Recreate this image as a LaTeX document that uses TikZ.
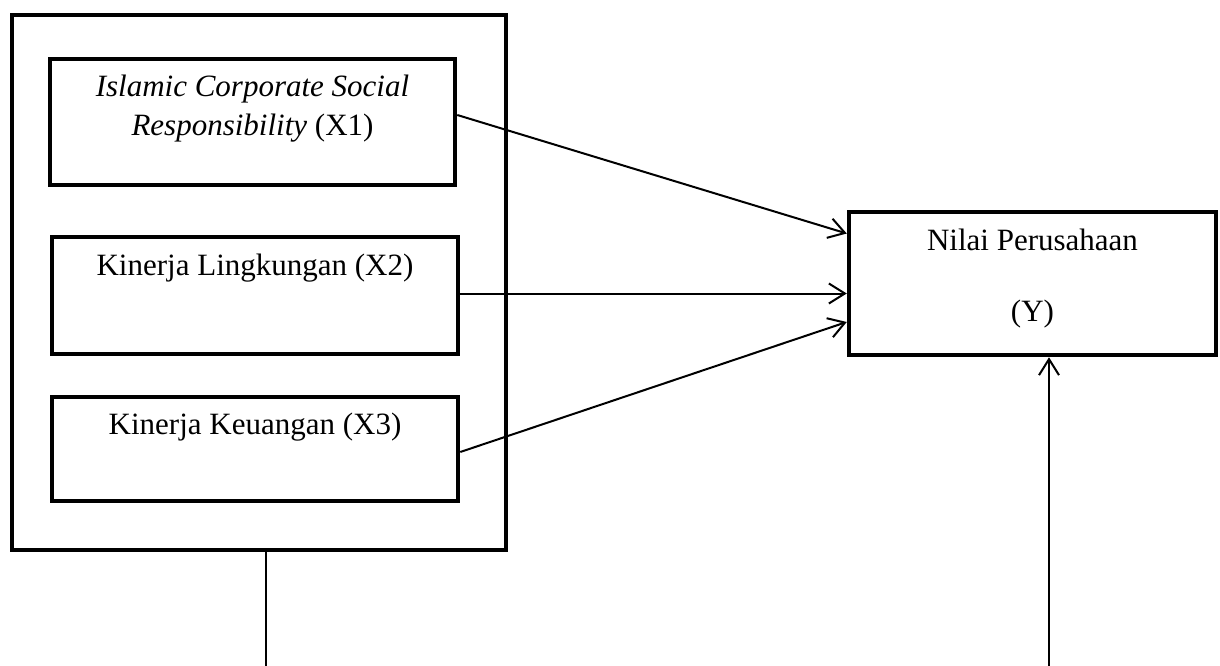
\documentclass[tikz,border=0pt]{standalone}
\usepackage{fontspec}
\setmainfont{Liberation Serif}
\usepackage{tikz}
\usetikzlibrary{arrows.meta, positioning, calc}

\tikzset{
	box/.style={rectangle, draw=black, line width=4.5pt, inner sep=0pt, fill=white},
	txt/.style={inner sep=0pt, align=center, font=\fontsize{31}{39}\selectfont},
	arr/.style={line width=2pt, -{Straight Barb[length=16pt,width=20pt]}},
	ln/.style={line width=2pt}
}

\begin{document}
\begin{tikzpicture}[x=1pt, y=-1pt]
		\useasboundingbox (0,0) rectangle (1220,666);
		%-------------------------------------------------------------------------------
		% independent variables
		%-------------------------------------------------------------------------------
		% outer box
		\node[box, minimum width=494pt, minimum height=535pt] (frame) 
			at (259,282.5) {};
		
		% core nodes
		\node[box, minimum width=405pt, minimum height=126pt] (x1) 
			at (252.5,122) {};
		\node[box, minimum width=406pt, minimum height=117pt] (x2) 
			at (255,295.5) {};
		\node[box, minimum width=406pt, minimum height=104pt] (x3) 
			at (255,449) {};
		\node[box, minimum width=367pt, minimum height=143pt] (y) 
			at (1032.5,283.5) {};
		
		% labels (base = baseline of last line)
		\node[txt, anchor=base] (x1t) at ([yshift=-79pt]x1.north) 
			{\textit{Islamic Corporate Social}\\\textit{Responsibility} (X1)};
		\node[txt, anchor=base] (x2t) at ([yshift=-41pt]x2.north) 
			{Kinerja Lingkungan (X2)};
		\node[txt, anchor=base] (x3t) at ([yshift=-40pt]x3.north) 
			{Kinerja Keuangan (X3)};
		\node[txt, anchor=base] (yt) at ([yshift=-112pt]y.north) 
			{Nilai Perusahaan\\[32pt](Y)};
		
		%-------------------------------------------------------------------------------
		% paths
		%-------------------------------------------------------------------------------
		\coordinate (lb) at (266,666);
		\coordinate (rb) at (1049,666);
		\draw[arr] ([yshift=7pt]x1.east) -- ([yshift=50pt]y.west);
		\draw[arr] ([yshift=2pt]x2.east) -- ([yshift=2pt]x2.east -| y.west);
		\draw[arr] ([yshift=-3pt]x3.east) -- ([yshift=-38.5pt]y.west);
		\draw[ln] (lb |- frame.south) -- (lb);
		\draw[arr] (rb) -- (rb |- y.south);
\end{tikzpicture}
\end{document}
